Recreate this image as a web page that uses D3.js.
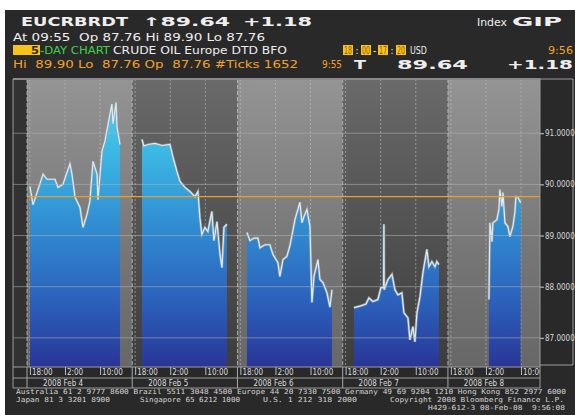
<!DOCTYPE html>
<html>
<head>
<meta charset="utf-8">
<script src="https://cdn.jsdelivr.net/npm/d3@7"></script>
<style>
  body { margin: 0; background: #fff; }
  svg text { white-space: pre; }
</style>
</head>
<body>
<div class="bbgChart"></div>
<script>
// session days and labels
const days = ['2008 Feb 4', '2008 Feb 5', '2008 Feb 6', '2008 Feb 7', '2008 Feb 8'];
const tickLabels = ['18:00', '2:00', '10:00'];
const priceTicks = [87, 88, 89, 90, 91];
const refPrice = 89.76;

// [time, price], one array per session
const feb4 = [['18:00', 89.96], ['18:42', 89.60], ['21:00', 90.20], ['21:54', 90.10], ['23:43', 90.10],
  ['00:24', 89.94], ['01:32', 90.00], ['03:08', 90.40], ['03:35', 90.20], ['04:17', 89.75], ['05:25', 89.55],
  ['06:06', 89.16], ['07:00', 89.41], ['07:41', 89.67], ['08:23', 90.45], ['09:18', 90.20], ['09:31', 89.70],
  ['10:26', 90.65], ['11:07', 90.85], ['12:15', 91.37], ['12:42', 91.57], ['12:57', 91.18], ['13:38', 91.60],
  ['13:52', 91.12], ['14:32', 90.78]];
const feb5 = [['19:33', 90.88], ['20:00', 90.75], ['20:56', 90.78], ['22:31', 90.80], ['00:07', 90.76],
  ['01:56', 90.78], ['02:38', 90.53], ['03:32', 90.25], ['04:13', 90.06], ['05:21', 89.94], ['06:30', 89.86],
  ['07:38', 89.76], ['08:19', 89.86], ['08:46', 89.35], ['09:13', 89.02], ['09:54', 89.16], ['10:35', 89.08],
  ['11:30', 89.47], ['11:58', 88.90], ['12:40', 89.27], ['13:21', 88.63], ['13:48', 88.37], ['14:15', 89.16],
  ['14:56', 89.22]];
const feb6 = [['19:30', 89.06], ['20:11', 88.90], ['21:06', 88.95], ['22:00', 88.95], ['22:28', 88.76],
  ['23:36', 88.82], ['00:44', 88.82], ['01:26', 88.63], ['02:34', 88.47], ['03:00', 88.20], ['03:43', 88.53],
  ['04:36', 88.59], ['05:17', 88.80], ['05:59', 89.10], ['06:27', 89.31], ['07:35', 89.65], ['08:02', 89.25],
  ['08:30', 89.37], ['09:11', 89.51], ['09:52', 89.18], ['10:19', 87.69], ['10:47', 88.20], ['11:41', 88.53],
  ['12:09', 88.14], ['12:50', 88.08], ['13:45', 87.88], ['14:26', 87.60], ['14:53', 87.94]];
const feb7 = [['19:54', 87.59], ['21:16', 87.62], ['22:38', 87.66], ['23:19', 87.78], ['00:14', 87.71],
  ['01:22', 87.75], ['02:03', 87.98], ['02:40', 87.98], ['02:44', 89.22], ['02:48', 87.94], ['03:39', 88.14],
  ['04:34', 88.24], ['05:15', 87.94], ['05:56', 87.84], ['06:50', 87.88], ['07:18', 87.49], ['08:13', 87.39],
  ['08:40', 86.96], ['09:21', 87.22], ['09:48', 86.92], ['10:16', 87.49], ['10:57', 87.80], ['11:38', 88.27],
  ['12:32', 88.73], ['13:00', 88.39], ['13:41', 88.49], ['14:22', 88.39], ['14:49', 88.49], ['15:17', 88.43]];
const feb8 = [['02:41', 87.75], ['02:55', 89.25], ['03:22', 88.88], ['03:36', 89.25], ['04:30', 89.31],
  ['04:58', 89.51], ['05:11', 89.90], ['05:39', 89.57], ['05:53', 89.84], ['06:20', 89.25], ['07:00', 89.18],
  ['07:28', 88.98], ['08:09', 89.18], ['08:36', 89.45], ['08:50', 89.76], ['09:18', 89.75], ['09:55', 89.64]];
const sessions = [feb4, feb5, feb6, feb7, feb8];

const width = 575, height = 415;
const plot = {left: 27, right: 540, top: 79, bottom: 367, frameLeft: 13};

// session starts at 18:00 of the previous calendar day
function toDate(dayIndex, hhmm) {
  const [h, m] = hhmm.split(':').map(Number);
  return new Date(2008, 1, 4 + dayIndex - (h >= 17 ? 1 : 0), h, m);
}

function bbgChart() {
  const svg = d3.select('.bbgChart').append('svg')
    .attr('width', width)
    .attr('height', height);
  const defs = svg.append('defs');

  const scaleX = d3.scaleTime()
    .domain([new Date(2008, 1, 3, 17, 20), new Date(2008, 1, 8, 14, 20)])
    .range([plot.left, plot.right]);
  const scaleY = d3.scaleLinear()
    .domain([86.43, 92.06])
    .range([plot.bottom, plot.top]);

  function gradient(id, stops) {
    const g = defs.append('linearGradient').attr('id', id)
      .attr('gradientUnits', 'userSpaceOnUse')
      .attr('x1', 0).attr('x2', 0).attr('y1', plot.top).attr('y2', plot.bottom);
    stops.forEach(s => g.append('stop').attr('offset', s[0]).attr('stop-color', s[1]));
  }
  gradient('bgLight', [[0, '#949494'], [0.2, '#8a8a8a'], [0.6, '#767676'], [1, '#676767']]);
  gradient('bgDark', [[0, '#6a6a6a'], [0.2, '#606060'], [0.6, '#4f4f4f'], [1, '#3c3c3c']]);
  gradient('fillBlue', [[0, '#58d8f3'], [0.25, '#3cb8e4'], [0.55, '#2f86cf'], [0.8, '#2b5cb8'], [1, '#2a3596']]);

  defs.append('clipPath').attr('id', 'plotClip').append('rect')
    .attr('x', plot.left).attr('y', plot.top)
    .attr('width', plot.right - plot.left).attr('height', plot.bottom - plot.top);
  // axis clip, in the axis group's own coordinates
  defs.append('clipPath').attr('id', 'axisClip').append('rect')
    .attr('x', plot.frameLeft).attr('y', 0)
    .attr('width', plot.right - plot.frameLeft).attr('height', 11);

  // terminal background
  svg.append('rect').attr('x', 5).attr('y', 10).attr('width', width - 5).attr('height', height - 10)
    .attr('fill', '#292929');
  svg.append('rect').attr('x', plot.frameLeft).attr('y', plot.top)
    .attr('width', plot.left - plot.frameLeft).attr('height', plot.bottom - plot.top)
    .attr('fill', '#323232');

  // day panels
  const panels = days.map((d, i) => ({
    label: d,
    start: new Date(2008, 1, 3 + i, 17, 20),
    end: new Date(2008, 1, 4 + i, 17, 20),
    ticks: [new Date(2008, 1, 3 + i, 18, 0), new Date(2008, 1, 4 + i, 2, 0), new Date(2008, 1, 4 + i, 10, 0)]
  }));
  const plotG = svg.append('g').attr('clip-path', 'url(#plotClip)');
  plotG.selectAll('rect.panel')
    .data(panels)
    .join('rect')
    .attr('class', 'panel')
    .attr('x', d => scaleX(d.start))
    .attr('width', d => scaleX(d.end) - scaleX(d.start))
    .attr('y', plot.top)
    .attr('height', plot.bottom - plot.top)
    .attr('fill', (d, i) => i % 2 === 0 ? 'url(#bgLight)' : 'url(#bgDark)');

  // grid
  const allTicks = panels.flatMap(p => p.ticks);
  svg.append('g').selectAll('line')
    .data(priceTicks)
    .join('line')
    .attr('x1', plot.frameLeft).attr('x2', plot.right)
    .attr('y1', d => scaleY(d)).attr('y2', d => scaleY(d))
    .attr('stroke', '#b4b4b4').attr('stroke-opacity', 0.55).attr('stroke-width', 1);
  plotG.append('g').selectAll('line')
    .data(allTicks)
    .join('line')
    .attr('x1', d => scaleX(d)).attr('x2', d => scaleX(d))
    .attr('y1', plot.top).attr('y2', plot.bottom)
    .attr('stroke', '#c4c4c4').attr('stroke-opacity', 0.55)
    .attr('stroke-dasharray', '2,2');

  // price areas
  const area = d3.area()
    .x(d => scaleX(d.t))
    .y0(plot.bottom)
    .y1(d => scaleY(d.p));
  const line = d3.line()
    .x(d => scaleX(d.t))
    .y(d => scaleY(d.p));
  const data = sessions.map((s, i) => s.map(e => ({t: toDate(i, e[0]), p: e[1]})));
  plotG.selectAll('path.area')
    .data(data)
    .join('path')
    .attr('class', 'area')
    .attr('d', area)
    .attr('fill', 'url(#fillBlue)');
  plotG.selectAll('path.shadow')
    .data(data)
    .join('path')
    .attr('class', 'shadow')
    .attr('d', line)
    .attr('fill', 'none')
    .attr('stroke', '#9aa4aa')
    .attr('stroke-width', 2.6)
    .attr('stroke-opacity', 0.7);
  plotG.selectAll('path.edge')
    .data(data)
    .join('path')
    .attr('class', 'edge')
    .attr('d', line)
    .attr('fill', 'none')
    .attr('stroke', '#dcecf4')
    .attr('stroke-width', 1.2);

  // reference level
  svg.append('line')
    .attr('x1', plot.left).attr('x2', plot.right)
    .attr('y1', scaleY(refPrice)).attr('y2', scaleY(refPrice))
    .attr('stroke', '#e8a028').attr('stroke-width', 1.2);

  // day boundaries
  svg.append('g').selectAll('line')
    .data(panels)
    .join('line')
    .attr('x1', d => scaleX(d.start)).attr('x2', d => scaleX(d.start))
    .attr('y1', plot.top).attr('y2', plot.bottom)
    .attr('stroke', '#c8c8c8').attr('stroke-opacity', 0.75)
    .attr('stroke-dasharray', '4,2');
  svg.append('g').selectAll('line')
    .data(panels)
    .join('line')
    .attr('x1', d => scaleX(d.start)).attr('x2', d => scaleX(d.start))
    .attr('y1', plot.bottom).attr('y2', 388)
    .attr('stroke', '#a8a8a8');

  // frame
  const frame = svg.append('g').attr('stroke', '#9c9c9c').attr('fill', 'none');
  frame.append('line').attr('x1', plot.frameLeft).attr('x2', plot.right).attr('y1', plot.top).attr('y2', plot.top)
    .attr('stroke', '#8a8a8a').attr('stroke-width', 2);
  frame.append('line').attr('x1', plot.frameLeft).attr('x2', plot.frameLeft).attr('y1', plot.top).attr('y2', 388);
  [plot.bottom, 378, 388].forEach(yy => frame.append('line')
    .attr('x1', plot.frameLeft).attr('x2', plot.right).attr('y1', yy).attr('y2', yy));
  frame.append('line').attr('x1', plot.right).attr('x2', plot.right).attr('y1', plot.top).attr('y2', 388);
  frame.append('line').attr('x1', 573).attr('x2', 573).attr('y1', plot.top).attr('y2', 365);
  frame.append('line').attr('x1', plot.right).attr('x2', 573).attr('y1', plot.top).attr('y2', plot.top);
  frame.append('line').attr('x1', plot.right).attr('x2', 573).attr('y1', 365).attr('y2', 365);

  // time axis
  const axisFont = "'Liberation Sans Narrow', 'DejaVu Sans Condensed', sans-serif";
  const xAxis = svg.append('g')
    .attr('transform', `translate(0, ${plot.bottom})`)
    .attr('clip-path', 'url(#axisClip)')
    .call(d3.axisBottom(scaleX)
      .tickValues(allTicks)
      .tickSize(8)
      .tickFormat((d, i) => tickLabels[i % 3]));
  xAxis.select('.domain').remove();
  xAxis.selectAll('line').attr('stroke', '#bbb');
  xAxis.selectAll('text')
    .attr('x', 1.5).attr('y', 2.5)
    .attr('text-anchor', 'start')
    .attr('fill', '#dcdcdc')
    .style('font', `8px ${axisFont}`);

  svg.append('g').selectAll('text')
    .data(panels)
    .join('text')
    .attr('x', d => scaleX(d.ticks[1]) - 2)
    .attr('y', 386)
    .attr('text-anchor', 'middle')
    .attr('fill', '#dcdcdc')
    .style('font', `8px ${axisFont}`)
    .text(d => d.label);

  // price axis
  const yAxis = svg.append('g')
    .attr('transform', `translate(${plot.right}, 0)`)
    .call(d3.axisRight(scaleY)
      .tickValues(priceTicks)
      .tickSize(4)
      .tickPadding(1)
      .tickFormat(d3.format('.4f')));
  yAxis.select('.domain').remove();
  yAxis.selectAll('line').attr('stroke', '#ccc');
  yAxis.selectAll('text')
    .attr('fill', '#d8d8d8')
    .style('font', `8px ${axisFont}`);

  // header
  const bold = "'DejaVu Sans', sans-serif";
  const narrow = "'DejaVu Sans Condensed', 'Liberation Sans Narrow', sans-serif";
  function label(str, x, y, len, color, font, weight) {
    const t = svg.append('text')
      .attr('x', x).attr('y', y)
      .attr('fill', color)
      .style('font-family', font)
      .style('font-size', weight === 'big' ? '12px' : '11px')
      .style('font-weight', weight === 'big' ? 'bold' : 'normal')
      .text(str);
    if (len) t.attr('textLength', len).attr('lengthAdjust', 'spacingAndGlyphs');
    return t;
  }
  const white = '#eeeeee', orange = '#f0a22c', green = '#3fd24c', yellow = '#f6c31a';

  label('EUCRBRDT', 21, 26, 107, white, bold, 'big');
  label('\u219189.64', 142, 26, 88, white, bold, 'big');
  label('+1.18', 243, 26, 69, white, bold, 'big');
  label('Index', 477, 26, 30, white, narrow);
  label('GIP', 512, 26, 50, white, bold, 'big');

  label('At 09:55  Op 87.76 Hi 89.90 Lo 87.76', 13, 41, 252, white, narrow);

  svg.append('rect').attr('x', 13).attr('y', 45).attr('width', 27).attr('height', 10).attr('fill', yellow);
  label('5', 31, 54, 8, '#3a2a00', narrow).style('font-weight', 'bold');
  label('-DAY CHART', 40, 54, 70, green, narrow);
  label('CRUDE OIL Europe DTD BFO', 113, 54, 174, white, narrow);
  [['18', 343], ['00', 361], ['17', 378], ['20', 396]].forEach(b => {
    svg.append('rect').attr('x', b[1]).attr('y', 45).attr('width', 10).attr('height', 10).attr('fill', yellow);
    label(b[0], b[1] + 1, 54, 8, '#9a5c00', narrow).style('font-size', '10px');
  });
  [[':', 357], ['-', 374.5], [':', 392]].forEach(s => {
    label(s[0], s[1], 54, null, white, narrow).attr('text-anchor', 'middle').style('font-size', '10px');
  });
  label('USD', 410, 54, 17, white, narrow);
  label('9:56', 573, 54, 25, orange, narrow).attr('text-anchor', 'end');

  label('Hi  89.90 Lo  87.76 Op  87.76 #Ticks 1652', 13, 68, 285, orange, narrow);
  label('9:55', 322, 68, 20, orange, narrow);
  label('T', 354, 69, 12, white, bold, 'big');
  label('89.64', 397, 69, 71, white, bold, 'big');
  label('+1.18', 507, 69, 66, white, bold, 'big');

  // footer
  const foot = "'DejaVu Sans Mono', monospace";
  function footer(str, x, y, len) {
    svg.append('text')
      .attr('x', x).attr('y', y)
      .attr('fill', '#d4d4d4')
      .attr('textLength', len).attr('lengthAdjust', 'spacingAndGlyphs')
      .style('font', `7px ${foot}`)
      .text(str);
  }
  footer('Australia 61 2 9777 8600 Brazil 5511 3048 4500 Europe 44 20 7330 7500 Germany 49 69 9204 1210 Hong Kong 852 2977 6000', 16, 394, 550);
  footer('Japan 81 3 3201 8900', 16, 402, 94);
  footer('Singapore 65 6212 1000', 140, 402, 100);
  footer('U.S. 1 212 318 2000', 263, 402, 94);
  footer('Copyright 2008 Bloomberg Finance L.P.', 390, 402, 174);
  footer('H429-612-3 08-Feb-08  9:56:08', 428, 410, 137);
}

bbgChart();
</script>
</body>
</html>
